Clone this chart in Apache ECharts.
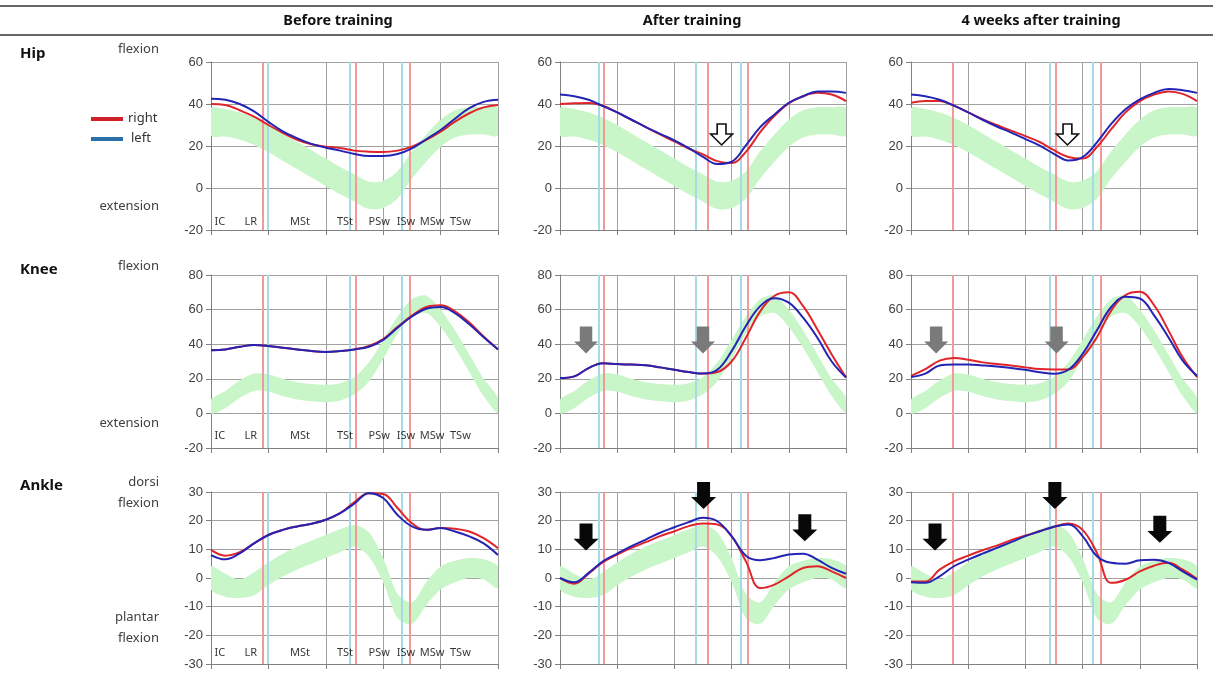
<!DOCTYPE html>
<html><head><meta charset="utf-8">
<script src="https://cdn.jsdelivr.net/npm/echarts@6/dist/echarts.min.js"></script>
<style>html,body{margin:0;padding:0;background:#fff}#c{width:1219px;height:684px}</style>
</head><body><div id="c"></div>
<script>
// % gait cycle
const pct = [0,5,10,15,20,25,30,35,40,45,50,55,60,65,70,75,80,85,90,95,100];
const columns = ['Before training','After training','4 weeks after training'];
const joints = ['Hip','Knee','Ankle'];
const phaseNames = ['IC','LR','MSt','TSt','PSw','ISw','MSw','TSw'];
const phasePos = [3.1,13.9,31,46.7,58.6,67.9,77,86.9];

// normal reference bands
const hipNormUpper = [38,37.5,36,33.5,30,26,22,18,14,10,6.5,3,3.5,8,17.5,25.5,32.5,37,38.5,38.5,38];
const hipNormLower = [25,24.5,23,20.5,17,13,9,5,1,-3,-6.5,-10,-9.5,-5,4.5,12.5,19.5,24,25.5,25.5,25];
const kneeNormUpper = [8,13,19,23,22.5,20,18,17,16.5,17.5,21,29.5,42.5,56,66,68,60,48,34,20,9];
const kneeNormLower = [0,3,9,13,12.5,10,8,7,6.5,7.5,11,18.5,31.5,46,56,58,50,38,24,10,0];
const ankleNormUpper = [4,1.5,-0.5,2,5.5,8.5,11,13,15,17,18.5,16,7,-5.5,-8.5,-1.5,4,6,7,6.5,4];
const ankleNormLower = [-4,-6.5,-7,-6,-2.5,0.5,3,5,7,9,11,7.5,-1.5,-14,-16,-9.5,-4,-1.5,0,-0.5,-3.5];

// hip
const hipBeforeR = [40,39.5,37,34,30,26.3,23,20.8,19.7,19,17.8,17.3,17.1,17.8,19.7,22.9,26.8,31.6,35.6,38.4,39.5];
const hipBeforeL = [42.5,42,40,36.5,31.5,27,23.7,21,19.2,17.8,16.2,15.2,15.2,16.2,18.9,23.2,27.6,33,38,41,42];
const hipAfterR = [40,40.3,40.5,39.2,36,32.5,29,25.5,22.2,18.8,16,12.8,11.9,17.2,26.6,34.4,40.3,43.7,45.3,44.5,41.4];
const hipAfterL = [44.5,43.7,42,39,36,32.5,29,25.8,22.7,19,14.8,11.4,12.5,20.3,29,35,40.6,43.7,46,46,45.3];
const hip4wR = [40.6,41.4,41.4,39.2,36,32.8,30,27.3,24.7,21.9,18,14.8,14,19.5,28,36,41.4,44.5,46,44.8,41.4];
const hip4wL = [44.5,43.7,42,39.2,36,32.5,29.3,26.4,23.3,20.2,16.3,13.1,14.7,21.7,30.5,37.5,42.2,45.3,47.2,46.6,45.3];
// knee
const kneeBeforeR = [36.5,37,38.5,39.5,39,38,37,36,35.5,36,37,39,43,50,56.5,61.5,62.5,59,52.5,44.5,37];
const kneeBeforeL = [36.5,37,38.5,39.5,39,38,37,36,35.5,36,37,38.5,42.5,49.5,56,60.5,61.5,58,51.5,44,37];
const kneeAfterR = [20.4,21.4,26.2,29,28.5,28.2,27.8,26.6,25.2,23.9,23,23.9,30,43.7,59,68,70,62,48.5,34,20.8];
const kneeAfterL = [20.4,21.4,26.2,29,28.5,28.2,27.8,26.6,25.2,23.9,23,25.2,36,50.5,62,66.6,64,55.3,43.7,30,20.8];
const knee4wR = [21.7,25.6,30.5,32,31,29.5,28.6,27.7,26.6,25.6,25.4,25.4,32.4,44,59.4,68.4,70.3,62.5,48,32.4,21];
const knee4wL = [21,23,27.7,28.2,28.2,27.7,27.1,26.3,25.2,23.8,22.9,25.2,34.4,48,61.5,67.4,66.4,56.7,44,30.5,21.7];
// ankle
const ankleBeforeR = [9.8,7.8,9,12.1,15,16.8,18,18.9,20.3,22.6,26.5,29.6,29.3,24.4,19.1,16.8,17.4,17.2,16.2,13.9,10.4];
const ankleBeforeL = [8,6.5,8.6,12.1,15,16.8,18,18.9,20.3,22.6,26,29.6,27.9,22,18,16.8,17.4,16.2,14.5,12.1,8];
const ankleAfterR = [0,-2,1.5,5.5,8.2,10.5,12.5,14.6,16.3,18.1,19,18.7,14.6,5.8,-3.5,-2.3,0.6,3.5,4.1,2.3,0];
const ankleAfterL = [0,-1.5,1.8,5.8,8.5,11.1,13.4,15.8,17.7,19.5,21,19.8,14.6,7.8,6.2,7,8.2,8.5,6.4,3.5,1.5];
const ankle4wR = [-1.2,-1.2,2.9,5.8,7.8,9.7,11.3,13.2,14.8,16.3,17.9,19,16.8,8.8,-1.7,-0.6,2.3,4.3,5.3,2.9,-0.3];
const ankle4wL = [-1.5,-1.7,0.6,4.1,6.4,8.5,10.5,12.5,14.6,16.3,17.9,18.7,14.6,7.6,5.3,5,6.2,6.4,5.3,2.3,-0.6];

// gait events (% cycle)
const beforeRedEvents = [18.1,50.5,69.3];
const beforeCyanEvents = [19.9,48.4,66.5];
const afterRedEvents = [15.4,51.5,65.6];
const afterCyanEvents = [13.5,47.6,63.3];
const w4RedEvents = [14.6,50.6,66.5];
const w4CyanEvents = [48.6,63.4];

// arrows [x %, y value]
const hipAfterArrows = [[56.5,25.5]];
const hip4wArrows = [[54.7,25.5]];
const kneeAfterArrows = [[9.1,42.5],[50,42.5]];
const knee4wArrows = [[8.8,42.5],[50.9,42.5]];
const ankleAfterArrows = [[9.1,14.3],[50.2,28.8],[85.6,17.5]];
const ankle4wArrows = [[8.4,14.3],[50.3,28.8],[87,17]];

const rowsCfg = [
  {min:-20,max:60,interval:20,up:hipNormUpper,lo:hipNormLower,phaseY:-16.2,top:62,height:168,
   R:[hipBeforeR,hipAfterR,hip4wR],L:[hipBeforeL,hipAfterL,hip4wL],arrows:[[],hipAfterArrows,hip4wArrows],arrowType:'hollow'},
  {min:-20,max:80,interval:20,up:kneeNormUpper,lo:kneeNormLower,phaseY:-13,top:275,height:173,
   R:[kneeBeforeR,kneeAfterR,knee4wR],L:[kneeBeforeL,kneeAfterL,knee4wL],arrows:[[],kneeAfterArrows,knee4wArrows],arrowType:'gray'},
  {min:-30,max:30,interval:10,up:ankleNormUpper,lo:ankleNormLower,phaseY:-26.2,top:492,height:172,
   R:[ankleBeforeR,ankleAfterR,ankle4wR],L:[ankleBeforeL,ankleAfterL,ankle4wL],arrows:[[],ankleAfterArrows,ankle4wArrows],arrowType:'black'}
];
const colsCfg = [
  {left:211,width:287,red:beforeRedEvents,cyan:beforeCyanEvents},
  {left:560,width:286,red:afterRedEvents,cyan:afterCyanEvents},
  {left:911,width:286,red:w4RedEvents,cyan:w4CyanEvents}
];

const RED = '#e0242a', BLUE = '#2424b4', BAND = '#c9f6c9';
const EV_RED = '#f29a9a', EV_CYAN = '#a6dbe6', GRIDC = '#a0a0a0';
const arrowPath = 'path://M24,0 L76,0 L76,56 L100,56 L50,100 L0,56 L24,56 Z';
const hollowPath = 'path://M30,0 L70,0 L70,48 L100,48 L50,100 L0,48 L30,48 Z';
const arrowStyle = {
  hollow:{symbol:hollowPath,size:[22,21],item:{color:'#fff',borderColor:'#111',borderWidth:1.6}},
  gray:{symbol:arrowPath,size:[24,27],item:{color:'#7a7a7a'}},
  black:{symbol:arrowPath,size:[25,27],item:{color:'#080808'}}
};

const grids=[], xAxes=[], yAxes=[], series=[];
const pairs = arr => pct.map((x,k)=>[x,arr[k]]);
rowsCfg.forEach((rc,r)=>{
  colsCfg.forEach((cc,c)=>{
    const i = r*3+c;
    grids.push({left:cc.left,top:rc.top,width:cc.width,height:rc.height});
    xAxes.push({type:'value',gridIndex:i,min:0,max:100,interval:20,
      axisLabel:{show:false},axisLine:{show:true,onZero:false,lineStyle:{color:'#808080',width:1}},
      axisTick:{show:true,length:5,lineStyle:{color:'#808080'}},
      splitLine:{show:true,lineStyle:{color:GRIDC,width:1}}});
    yAxes.push({type:'value',gridIndex:i,min:rc.min,max:rc.max,interval:rc.interval,
      axisLabel:{show:true,color:'#404040',fontSize:13,fontFamily:'Liberation Sans, Arial',margin:8},
      axisLine:{show:true,lineStyle:{color:'#808080',width:1}},
      axisTick:{show:true,length:5,lineStyle:{color:'#808080'}},
      splitLine:{show:true,lineStyle:{color:GRIDC,width:1}}});
    const evData = cc.red.map(v=>({xAxis:v,lineStyle:{color:EV_RED,width:2,type:'solid'}}))
      .concat(cc.cyan.map(v=>({xAxis:v,lineStyle:{color:EV_CYAN,width:2,type:'solid'}})));
    const up = rc.up, lo = rc.lo;
    series.push({type:'custom',xAxisIndex:i,yAxisIndex:i,z:1,silent:true,
      data:pct.map((x,k)=>[x,lo[k],up[k]]),
      renderItem:(params,api)=>{
        if(params.dataIndex!==0) return null;
        const cs = params.coordSys;
        const pts=[];
        pct.forEach((x,k)=>pts.push(api.coord([x,up[k]])));
        for(let k=pct.length-1;k>=0;k--) pts.push(api.coord([pct[k],lo[k]]));
        return {type:'polygon',shape:{points:pts,smooth:0.3},style:{fill:BAND},
          clipPath:{type:'rect',shape:{x:cs.x,y:cs.y,width:cs.width,height:cs.height}}};
      }});
    series.push({type:'line',xAxisIndex:i,yAxisIndex:i,data:pairs(rc.R[c]),smooth:0.4,symbol:'none',
      lineStyle:{color:RED,width:2},z:6,silent:true,
      markLine:{silent:true,symbol:'none',z:3,label:{show:false},data:evData}});
    const as = arrowStyle[rc.arrowType];
    series.push({type:'line',xAxisIndex:i,yAxisIndex:i,data:pairs(rc.L[c]),smooth:0.4,symbol:'none',
      lineStyle:{color:BLUE,width:2},z:7,silent:true,
      markPoint:{silent:true,z:10,label:{show:false},
        data:rc.arrows[c].map(a=>({coord:a,symbol:as.symbol,symbolSize:as.size,itemStyle:as.item}))}});
    if(c===0){
      series.push({type:'scatter',xAxisIndex:i,yAxisIndex:i,symbolSize:1,itemStyle:{color:'rgba(0,0,0,0)'},z:8,silent:true,
        data:phaseNames.map((n,k)=>({name:n,value:[phasePos[k],rc.phaseY]})),
        label:{show:true,position:'inside',formatter:p=>p.name,color:'#000',fontSize:11,fontFamily:'Noto Sans'}});
    }
  });
});

const txt = (t,x,y,opt)=>Object.assign({type:'text',x:x,y:y,silent:true,style:Object.assign({text:t,fill:'#222',
  font:'13px "Noto Sans"',textAlign:'left',textVerticalAlign:'middle'},opt||{})});
const headerX = [338,692,1041];
const graphics = [
  {type:'line',silent:true,shape:{x1:0,y1:6,x2:1213,y2:6},style:{stroke:'#333',lineWidth:1.5}},
  {type:'line',silent:true,shape:{x1:0,y1:35,x2:1213,y2:35},style:{stroke:'#333',lineWidth:1.5}},
  {type:'line',silent:true,shape:{x1:91,y1:119,x2:123,y2:119},style:{stroke:'#d0202a',lineWidth:4}},
  {type:'line',silent:true,shape:{x1:91,y1:139,x2:123,y2:139},style:{stroke:'#2a6fa8',lineWidth:4}},
  txt('right',128,118,{fill:'#333'}),
  txt('left',131,138,{fill:'#333'})
];
columns.forEach((t,k)=>graphics.push(txt(t,headerX[k],21,{textAlign:'center',font:'bold 14.5px "Noto Sans"',fill:'#111'})));
const rowLabelY=[54,270,486];
joints.forEach((t,k)=>graphics.push(txt(t,20,rowLabelY[k],{font:'bold 15px "Noto Sans"',fill:'#111'})));
const sideLabels=[['flexion',49],['extension',206],['flexion',266],['extension',423],['dorsi',482],['flexion',503],['plantar',617],['flexion',638]];
sideLabels.forEach(s=>graphics.push(txt(s[0],159,s[1],{textAlign:'right',fill:'#404040'})));

const chart = echarts.init(document.getElementById('c'),null,{renderer:'canvas'});
chart.setOption({animation:false,backgroundColor:'#fff',grid:grids,xAxis:xAxes,yAxis:yAxes,series:series,graphic:graphics});
</script></body></html>
